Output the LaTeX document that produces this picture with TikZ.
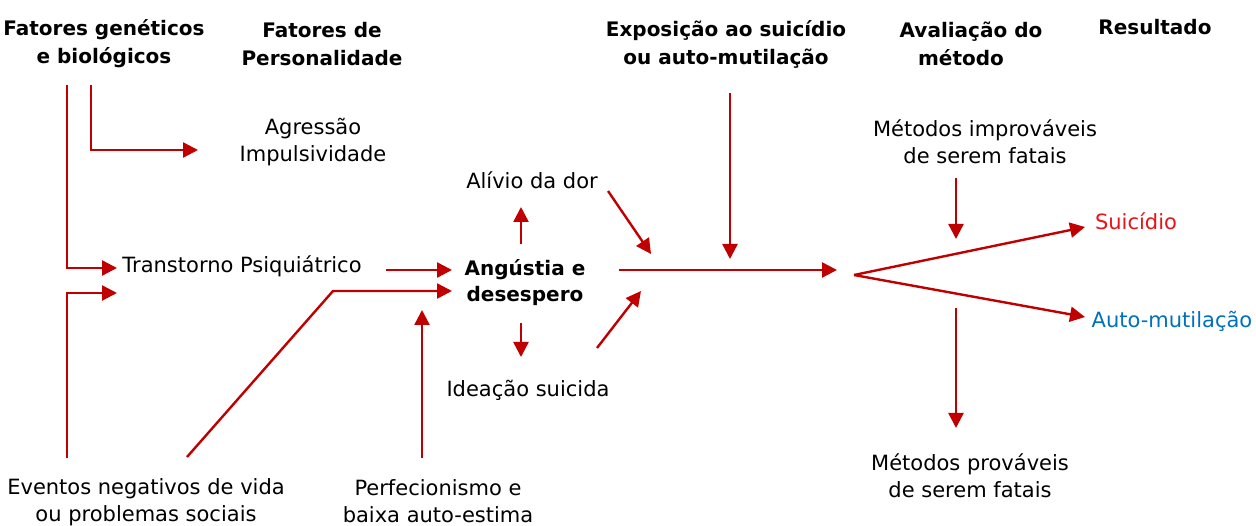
\documentclass[tikz,border=0pt]{standalone}
\usepackage{fontspec}
\setmainfont{DejaVu Sans}
\usetikzlibrary{arrows.meta}
\definecolor{arr}{RGB}{192,0,0}
\definecolor{sred}{RGB}{232,20,26}
\definecolor{sblue}{RGB}{0,112,192}
\tikzset{
  lbl/.style={inner sep=0pt, align=center, font=\fontsize{21}{27}\selectfont},
  hdr/.style={inner sep=0pt, align=center, font=\fontsize{20}{28}\selectfont\bfseries},
  con/.style={draw=arr, line width=2.4pt, -{Triangle[length=15pt,width=15pt]}}
}
\begin{document}
\begin{tikzpicture}[x=1pt,y=-1pt]
\path[use as bounding box, fill=white] (0,0) rectangle (1256,526);
% headings
\node[hdr] (hgen) at (104,44) {Fatores genéticos\\e biológicos};
\node[hdr] (hpers) at (322,44) {Fatores de\\Personalidade};
\node[hdr] (hexp) at (726,44) {Exposição ao suicídio\\ou auto-mutilação};
\node[hdr] (haval) at (971,44) {Avaliação do\\método\hspace*{20pt}};
\node[hdr, anchor=base] (hres) at (1155,35) {Resultado};
% labels
\node[lbl] (agr) at (313,142) {Agressão\\Impulsividade};
\node[lbl, anchor=base] (trans) at (242,273) {Transtorno Psiquiátrico};
\node[hdr, font=\fontsize{20}{26}\selectfont\bfseries] (ang) at (525,283) {Angústia e\\desespero};
\node[lbl, anchor=base] (alivio) at (532,189) {Alívio da dor};
\node[lbl, anchor=base] (idea) at (528,397) {Ideação suicida};
\node[lbl] (mimp) at (985,142) {Métodos improváveis\\de serem fatais};
\node[lbl] (mprov) at (970,476) {Métodos prováveis\\de serem fatais};
\node[lbl, anchor=base, text=sred] (suic) at (1136,230) {Suicídio};
\node[lbl, anchor=base, text=sblue] (auto) at (1172,328) {Auto-mutilação};
\node[lbl] (evt) at (146,502) {Eventos negativos de vida\\ou problemas sociais};
\node[lbl] (perf) at (438,501) {Perfecionismo e\\baixa auto-estima};
% coordinates
\coordinate (a1s) at (91,85);   \coordinate (a1m) at (91,150);  \coordinate (a1e) at (198,150);
\coordinate (a2s) at (67,85);   \coordinate (a2m) at (67,268);  \coordinate (a2e) at (117,268);
\coordinate (a3s) at (67,458);  \coordinate (a3m) at (67,293);  \coordinate (a3e) at (117,293);
\coordinate (a4s) at (386,270); \coordinate (a4e) at (452,270);
\coordinate (a5s) at (187,457); \coordinate (a5m) at (333,291); \coordinate (a5e) at (452,291);
\coordinate (a6s) at (422,458); \coordinate (a6e) at (422,310);
\coordinate (a7s) at (521,244); \coordinate (a7e) at (521,207);
\coordinate (a8s) at (521,323); \coordinate (a8e) at (521,357);
\coordinate (a9s) at (608,191); \coordinate (a9e) at (651,254);
\coordinate (a10s) at (597,348); \coordinate (a10e) at (641,291);
\coordinate (a11s) at (619,270); \coordinate (a11e) at (837,270);
\coordinate (a12s) at (730,93);  \coordinate (a12e) at (730,259);
\coordinate (a13s) at (956,178); \coordinate (a13e) at (956,239);
\coordinate (a14s) at (956,308); \coordinate (a14e) at (956,428);
\coordinate (fork) at (854,275);
\coordinate (a15e) at (1085,227);
\coordinate (a16e) at (1085,317);
% connectors
\draw[con] (a1s) -- (a1m) -- (a1e);
\draw[con] (a2s) -- (a2m) -- (a2e);
\draw[con] (a3s) -- (a3m) -- (a3e);
\draw[con] (a4s) -- (a4e);
\draw[con] (a5s) -- (a5m) -- (a5e);
\draw[con] (a6s) -- (a6e);
\draw[con] (a7s) -- (a7e);
\draw[con] (a8s) -- (a8e);
\draw[con] (a9s) -- (a9e);
\draw[con] (a10s) -- (a10e);
\draw[con] (a11s) -- (a11e);
\draw[con] (a12s) -- (a12e);
\draw[con] (a13s) -- (a13e);
\draw[con] (a14s) -- (a14e);
\draw[con] (fork) -- (a15e);
\draw[con] (fork) -- (a16e);
\end{tikzpicture}
\end{document}
